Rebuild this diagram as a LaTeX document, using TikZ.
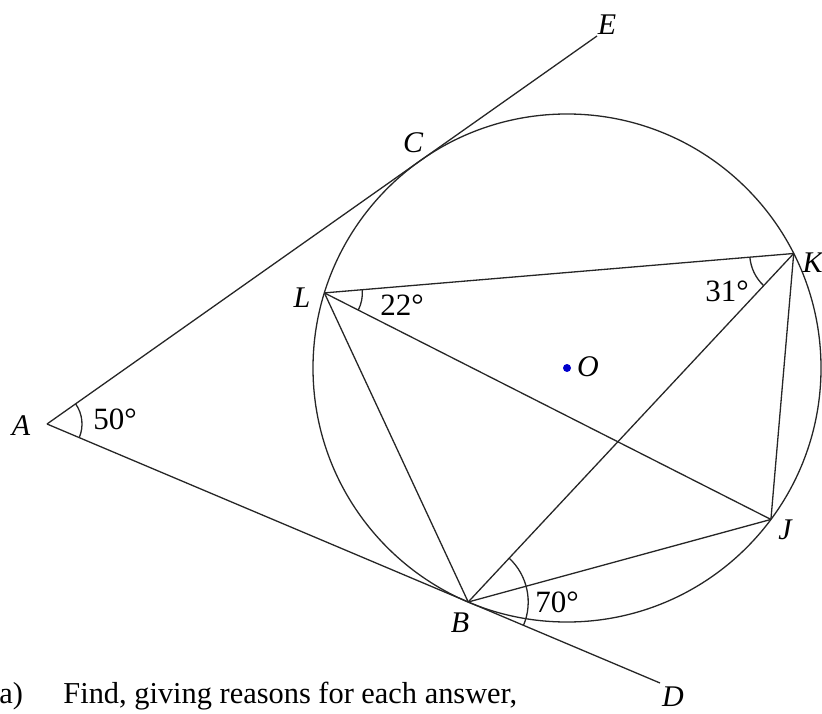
\documentclass[tikz,border=0pt]{standalone}
\usepackage{fontspec}
\setmainfont{Liberation Serif}
\usetikzlibrary{calc,angles}
\begin{document}
\begin{tikzpicture}[x=0.5pt,y=0.5pt,
  geo/.style={line width=0.65pt,draw=black!85},
  ang/.style={draw=black!85,line width=0.65pt},
  ptlabel/.style={font=\fontsize{15}{18}\selectfont\itshape,inner sep=0pt},
  deglabel/.style={font=\fontsize{15.5}{18}\selectfont,inner sep=0pt},
  qtext/.style={font=\fontsize{15.2}{18}\selectfont,inner sep=0pt,anchor=base west}]
\useasboundingbox (0,0) rectangle (822,713);
% key points
\coordinate (O) at (567,345);
\coordinate (A) at (47,289);
\coordinate (C) at (420.6,552.6);
\coordinate (B) at (468.2,111.0);
\coordinate (E) at (597,677);
\coordinate (D) at (660,30);
\coordinate (L) at ($(O)+(162.8:254)$);
\coordinate (K) at ($(O)+(26.8:254)$);
\coordinate (J) at ($(O)+(-36.6:254)$);
% circle
\draw[geo] (O) circle (254);
% tangents
\draw[geo] (A) -- (E);
\draw[geo] (A) -- (D);
% chords
\draw[geo] (L) -- (K);
\draw[geo] (L) -- (J);
\draw[geo] (L) -- (B);
\draw[geo] (K) -- (B);
\draw[geo] (K) -- (J);
\draw[geo] (B) -- (J);
% angle marks
\pic[ang,angle radius=17.5pt] {angle=D--A--E};
\pic[ang,angle radius=19pt] {angle=J--L--K};
\pic[ang,angle radius=22pt] {angle=L--K--B};
\pic[ang,angle radius=30pt] {angle=D--B--K};
% centre
\fill[blue!80!black] (O) circle (4);
% labels
\node[ptlabel] (lE) at (607,688) {E};
\node[ptlabel] (lC) at (413,570) {C};
\node[ptlabel] (lK) at (812.5,450) {K};
\node[ptlabel] (lL) at (302,415) {L};
\node[ptlabel] (lO) at (588,346) {O};
\node[ptlabel] (lA) at (21,287) {A};
\node[ptlabel] (lJ) at (785,183) {J};
\node[ptlabel] (lB) at (460,90) {B};
\node[ptlabel] (lD) at (673,16) {D};
\node[deglabel] (a50) at (115,294) {50°};
\node[deglabel] (a22) at (402,408) {22°};
\node[deglabel] (a31) at (727,422) {31°};
\node[deglabel] (a70) at (557,111) {70°};
\node[qtext] (qa) at (-1,10) {a)};
\node[qtext] (qt) at (63,10) {Find, giving reasons for each answer,};
\end{tikzpicture}
\end{document}
